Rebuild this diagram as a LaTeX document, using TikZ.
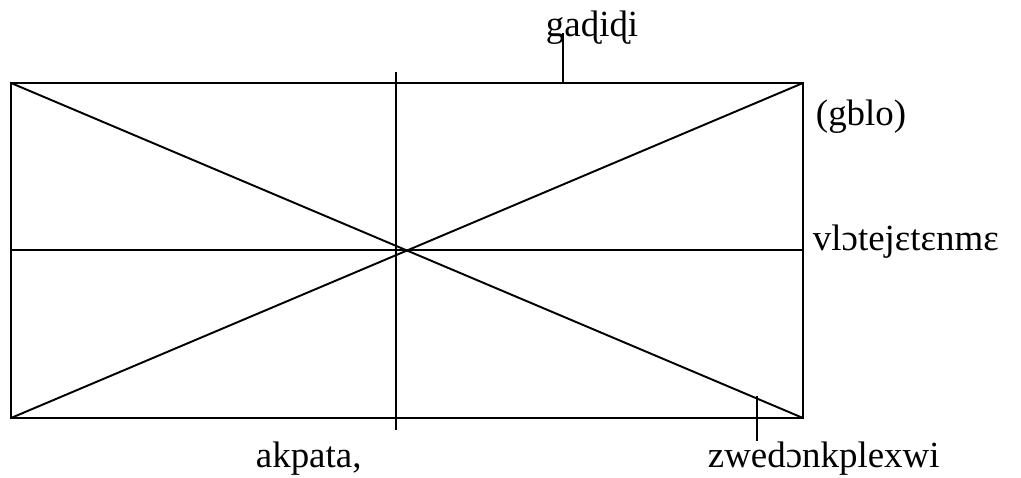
\documentclass[tikz,border=0pt]{standalone}
\usepackage{fontspec}
\setmainfont{Liberation Serif}
\begin{document}
\begin{tikzpicture}[x=0.02cm, y=-0.02cm, line width=1.1pt,
    every node/.style={font=\fontsize{21}{25}\selectfont, inner sep=0pt, anchor=base west}]
  \useasboundingbox (0,0) rectangle (1021,477);
  \coordinate (nw) at (11,83);
  \coordinate (ne) at (803,83);
  \coordinate (sw) at (11,418);
  \coordinate (se) at (803,418);
  \draw (nw) rectangle (se);
  \draw (nw) -- (se);
  \draw (sw) -- (ne);
  \draw (11,250) coordinate (midw) -- (803,250) coordinate (mide);
  \draw (396,72) coordinate (vtop) -- (396,430) coordinate (vbot);
  % labels
  \node (top) at (545,36) {gaɖiɖi};
  \node (gblo) at (815,125) {(gblo)};
  \node (mid) at (812,250) {vlɔtejɛtɛnmɛ};
  \node (bot) at (255,467) {akpata,};
  \node (corner) at (707,467) {zwedɔnkplexwi};
  \draw (563,33) coordinate (ttop) -- (563,83) coordinate (tbot);
  \draw (757,396) coordinate (ctop) -- (757,441) coordinate (cbot);
\end{tikzpicture}
\end{document}
